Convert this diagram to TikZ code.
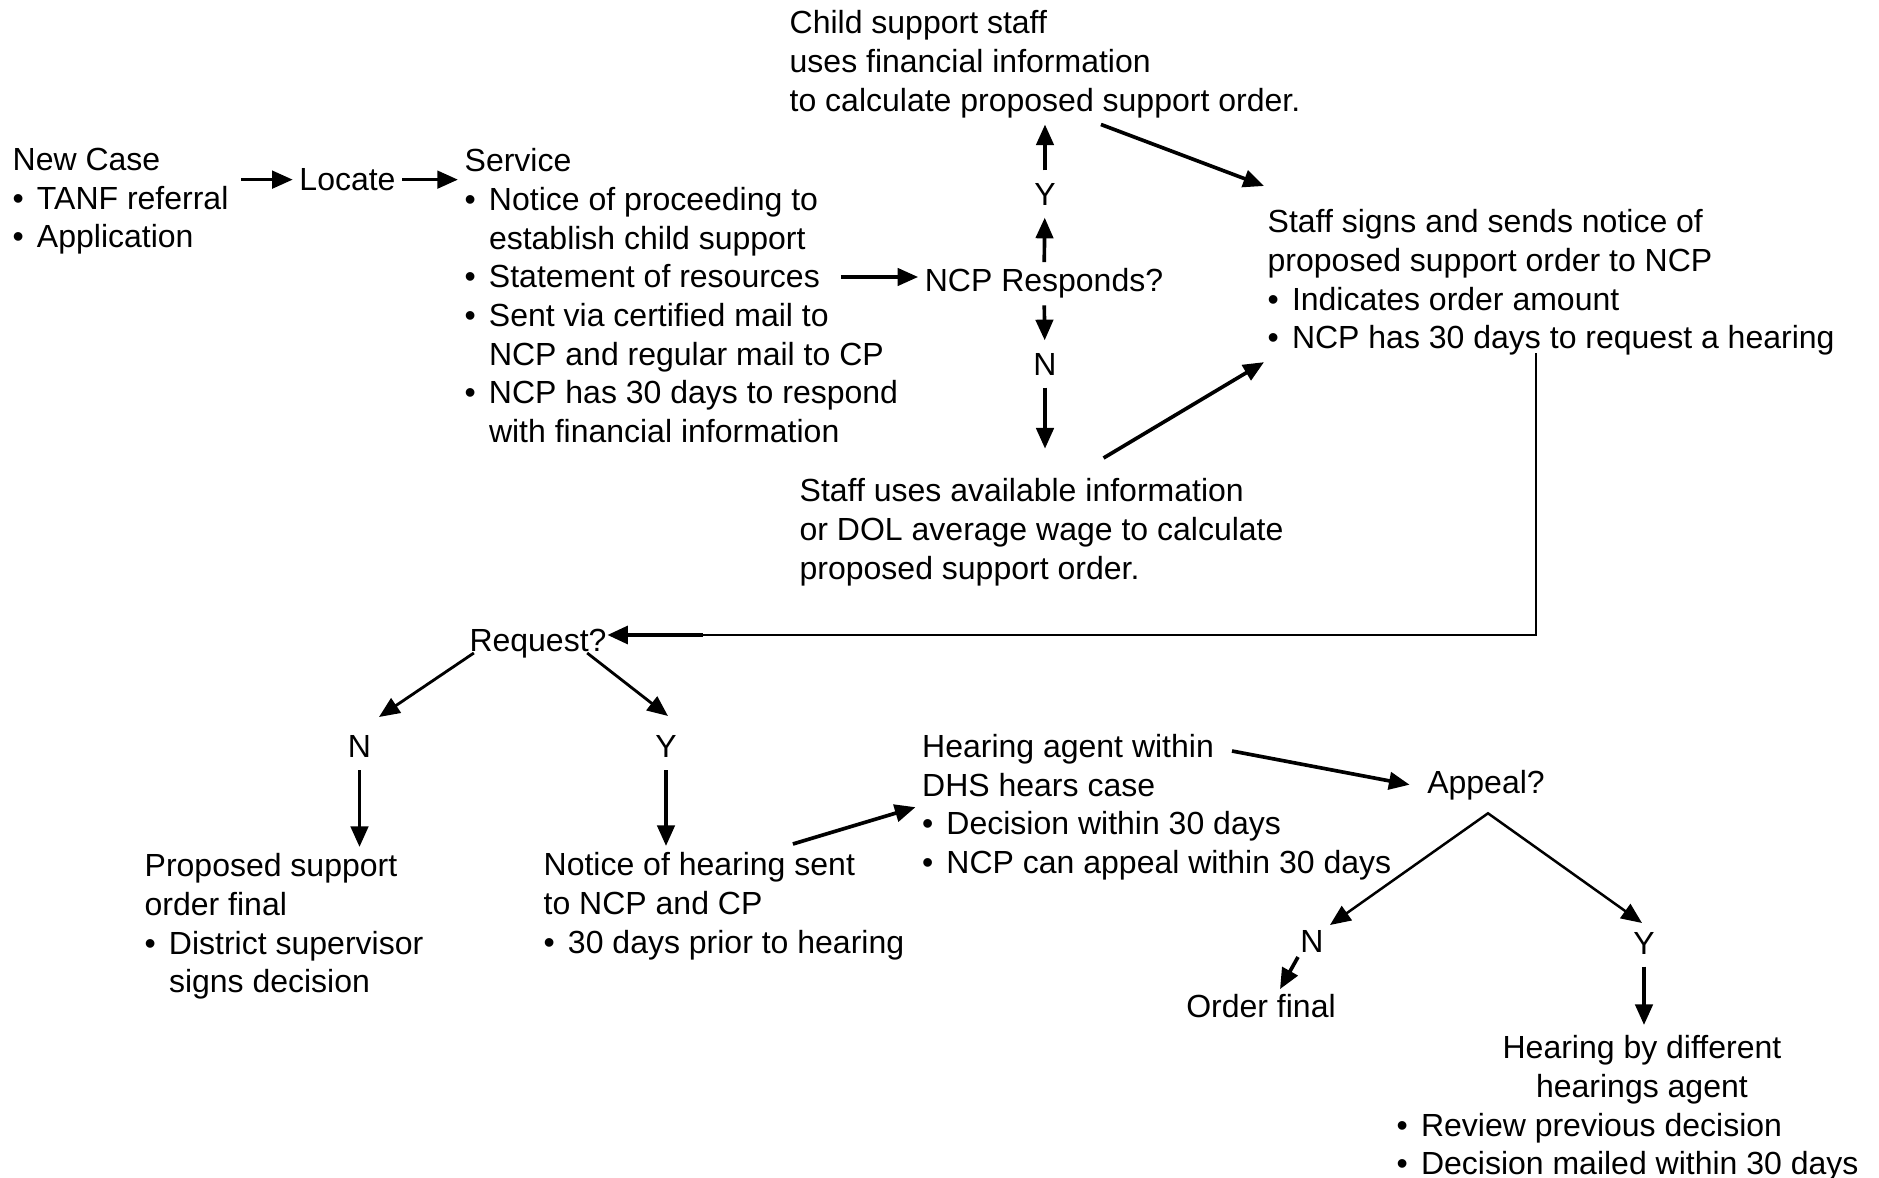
\documentclass[tikz,border=0pt]{standalone}
\usepackage{fontspec}
\setmainfont{Liberation Sans}
\usetikzlibrary{arrows.meta,calc}

\newcommand{\itembul}{\makebox[7.3pt][l]{•}}
\newcommand{\itemind}{\hspace*{7.3pt}}

\begin{document}
\begin{tikzpicture}[x=0.3pt,y=-0.3pt,font=\fontsize{9.6}{11.6}\selectfont]

        \tikzstyle{block}=[align=left,inner sep=1.8pt,anchor=north west]
        \tikzstyle{word}=[inner sep=1.8pt,anchor=base]
        \tikzstyle{yn}=[inner sep=3.6pt]
        \tikzstyle{arr}=[line width=1.1pt,-{Triangle[length=6.2pt,width=5.2pt]}]
        \tikzstyle{medarr}=[line width=0.85pt,-{Triangle[length=6.2pt,width=5.2pt]}]

        \useasboundingbox (0,0) rectangle (1879,1178);

        %% Top row
        \node[block] (newcase) at (6,141.6) {New Case\\
            \itembul TANF referral\\
            \itembul Application};
        \node[word] (locate) at (347.5,190.5) {Locate};
        \node[block] (service) at (458,142) {Service\\
            \itembul Notice of proceeding to\\
            \itemind establish child support\\
            \itembul Statement of resources\\
            \itembul Sent via certified mail to\\
            \itemind NCP and regular mail to CP\\
            \itembul NCP has 30 days to respond\\
            \itemind with financial information};

        \node[word] (resp) at (1044,292) {NCP Responds?};
        \node[yn] (yup) at (1045,194) {Y};
        \node[yn] (ndown) at (1045,364) {N};

        \node[block] (csstaff) at (783,4) {Child support staff\\
            uses financial information\\
            to calculate proposed support order.};
        \node[block] (avail) at (793,472) {Staff uses available information\\
            or DOL average wage to calculate\\
            proposed support order.};
        \node[block] (signs) at (1261,203) {Staff signs and sends notice of\\
            proposed support order to NCP\\
            \itembul Indicates order amount\\
            \itembul NCP has 30 days to request a hearing};

        %% Bottom part
        \node[word] (request) at (538,652) {Request?};
        \node[yn] (nleft) at (359.5,746.6) {N};
        \node[yn] (yright) at (666,746.6) {Y};

        \node[block] (final) at (138,847) {Proposed support\\
            order final\\
            \itembul District supervisor\\
            \itemind signs decision};
        \node[block] (notice) at (537,846) {Notice of hearing sent\\
            to NCP and CP\\
            \itembul 30 days prior to hearing};
        \node[block] (agent) at (915.5,727.6) {Hearing agent within\\
            DHS hears case\\
            \itembul Decision within 30 days\\
            \itembul NCP can appeal within 30 days};

        \node[word] (appeal) at (1486,793) {Appeal?};
        \node[yn] (appN) at (1312,941) {N};
        \node[yn] (appY) at (1644,943) {Y};
        \node[word] (ofinal) at (1261,1017) {Order final};
        \node[inner sep=1.8pt,anchor=north west] (second) at (1390,1025) {\begin{tabular}{@{}l@{}}
            \multicolumn{1}{@{\hspace{8.6pt}}c@{}}{Hearing by different}\\
            \multicolumn{1}{@{\hspace{8.6pt}}c@{}}{hearings agent}\\
            \itembul Review previous decision\\
            \itembul Decision mailed within 30 days
            \end{tabular}};

        %% Connectors, top
        \draw[arr] ($(newcase.east |- locate.west)+(6,0)$) -- (locate.west);
        \draw[arr] (locate.east) -- (service.west |- locate.east);
        \draw[arr] ($(service.east |- resp.base west)+(-64,-15)$) -- ($(resp.base west)+(0,-15)$);
        \draw[arr] (resp) -- (yup);
        \draw[arr] (yup) -- (yup |- csstaff.south);
        \draw[arr] (resp) -- (ndown);
        \draw[arr,shorten >=7pt] (ndown) -- (ndown |- avail.north);
        \draw[arr] ($(csstaff.south)+(56,0)$) -- ($(signs.north west)+(3,-17)$);
        \draw[arr] ($(avail.north)+(62,-14)$) -- ($(signs.south west)+(3,0)$);

        %% Back to the request
        \coordinate (retn) at ($(request.base east)+(90,-17)$);
        \draw[line width=0.5pt] ($(signs.south west)+(275,-9)$) |- (retn);
        \draw[arr,line width=1.4pt] (retn) -- ($(request.base east)+(-6,-17)$);

        %% Connectors, bottom
        \draw[medarr] ($(request.base west)+(11,1)$) -- ($(nleft)+(19.5,-29.6)$);
        \draw[arr] (nleft) -- (nleft |- final.north);
        \draw[medarr] ($(request.base east)+(-26,1)$) -- ($(yright)+(2,-30.6)$);
        \draw[arr] (yright) -- (yright |- notice.north);
        \draw[arr] ($(notice.north east)+(-118,-2)$) -- (agent.west);
        \draw[arr] ($(agent.north west)+(316.5,23.4)$) -- ($(appeal.west)+(-11,0)$);

        \coordinate (apex) at ($(appeal.south)+(2,7)$);
        \draw[line width=0.75pt,{Triangle[length=6.2pt,width=5.2pt]}-{Triangle[length=6.2pt,width=5.2pt]}]
            ($(appN)+(18,-16)$) -- (apex) -- ($(appY)+(-2,-20)$);
        \draw[arr] ($(appN)+(-14,16)$) -- ($(ofinal.north)+(19,2)$);
        \draw[arr] (appY) -- (appY |- second.north);

\end{tikzpicture}
\end{document}
